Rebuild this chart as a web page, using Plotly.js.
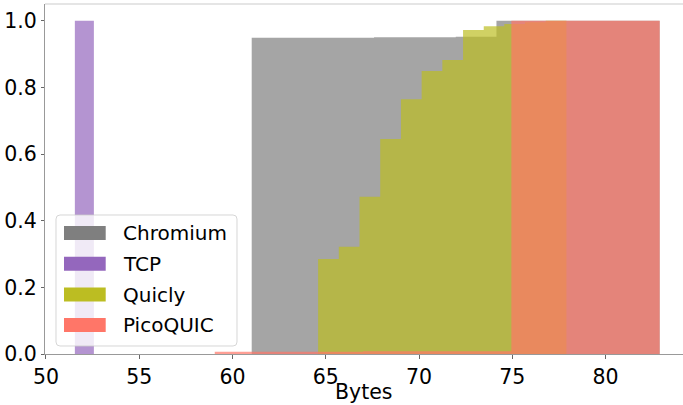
<!DOCTYPE html>
<html>
<head>
<meta charset="utf-8">
<script src="https://cdn.plot.ly/plotly-3.0.1.min.js"></script>
<style>html,body{margin:0;padding:0;background:#fff;}#chart{width:683px;height:405px;}</style>
</head>
<body>
<div id="chart"></div>
<script>
// ---- data (cumulative histogram bin edges and cumulative fractions) ----
const seriesNames = ["Chromium", "TCP", "Quicly", "PicoQUIC"];
const chromiumEdges = [61.03, 63.22, 65.40, 67.59, 69.78, 71.97, 74.15, 76.34, 78.53, 80.71, 82.9];
const chromiumCdf   = [0.949, 0.949, 0.949, 0.950, 0.950, 0.952, 1.0, 1.0, 1.0, 1.0];
const tcpEdges = [51.55, 52.57];
const tcpCdf   = [1.0];
const quiclyEdges = [64.59, 65.70, 66.81, 67.92, 69.03, 70.14, 71.25, 72.36, 73.47, 74.57, 75.68, 76.79, 77.90];
const quiclyCdf   = [0.285, 0.322, 0.472, 0.645, 0.764, 0.849, 0.882, 0.972, 0.983, 0.990, 0.995, 1.0];
const picoEdges = [59.05, 67.0, 74.95, 82.9];
const picoCdf   = [0.007, 0.008, 1.0];
const xTickVals = [50, 55, 60, 65, 70, 75, 80];
const yTickVals = [0.0, 0.2, 0.4, 0.6, 0.8, 1.0];
const xLabel = "Bytes";

const baseColors = ["rgb(127,127,127)", "rgb(148,103,189)", "rgb(188,189,34)", "rgb(255,118,104)"];
const fillColors = ["rgba(127,127,127,0.7)", "rgba(148,103,189,0.7)", "rgba(188,189,34,0.7)", "rgba(255,118,104,0.7)"];

function stepTrace(edges, vals, i) {
  const y = vals.concat([vals[vals.length - 1]]);
  return {
    type: "scatter", mode: "lines", x: edges, y: y,
    line: {shape: "hv", width: 0, color: fillColors[i]},
    fill: "tozeroy", fillcolor: fillColors[i],
    name: seriesNames[i], showlegend: false, hoverinfo: "skip"
  };
}

const traces = [
  stepTrace(chromiumEdges, chromiumCdf, 0),
  stepTrace(tcpEdges, tcpCdf, 1),
  stepTrace(quiclyEdges, quiclyCdf, 2),
  stepTrace(picoEdges, picoCdf, 3)
];

// ---- custom matplotlib-like legend ----
const W = 683, H = 405, mL = 45, mR = 0, mT = 4, mB = 51;
const pw = W - mL - mR, ph = H - mT - mB;
function px2x(p) { return (p - mL) / pw; }
function py2y(p) { return (H - mB - p) / ph; }
function roundedRect(x0, y0, x1, y1, r) {
  const rx = r / pw, ry = r / ph;
  const X0 = px2x(x0), X1 = px2x(x1), Yt = py2y(y0), Yb = py2y(y1);
  return `M ${X0 + rx},${Yb} L ${X1 - rx},${Yb} Q ${X1},${Yb} ${X1},${Yb + ry} L ${X1},${Yt - ry} Q ${X1},${Yt} ${X1 - rx},${Yt} L ${X0 + rx},${Yt} Q ${X0},${Yt} ${X0},${Yt - ry} L ${X0},${Yb + ry} Q ${X0},${Yb} ${X0 + rx},${Yb} Z`;
}
const shapes = [
  {type: "line", xref: "paper", yref: "paper", x0: 0, x1: 1, y0: 1, y1: 1, line: {color: "#cccccc", width: 1.2}},
  {type: "path", xref: "paper", yref: "paper", path: roundedRect(56, 215, 237, 346, 4),
   fillcolor: "rgba(255,255,255,0.8)", line: {color: "rgba(204,204,204,0.8)", width: 1}, layer: "above"}
];
const annotations = [];
const rowCenters = [233, 263.7, 294.5, 325];
seriesNames.forEach((n, i) => {
  const c = rowCenters[i];
  shapes.push({type: "rect", xref: "paper", yref: "paper", x0: px2x(64), x1: px2x(105.7),
    y0: py2y(c + 7), y1: py2y(c - 7), fillcolor: baseColors[i], line: {width: 0}, layer: "above"});
  annotations.push({xref: "paper", yref: "paper", x: px2x(121), y: py2y(c), xanchor: "left", yanchor: "middle",
    text: n, showarrow: false, font: {family: "DejaVu Sans", size: 20, color: "#000"}});
});
// x-axis title
annotations.push({xref: "paper", yref: "paper", x: 0.5, y: py2y(392), xanchor: "center", yanchor: "middle",
  text: xLabel, showarrow: false, font: {family: "DejaVu Sans", size: 20.5, color: "#000"}});

const layout = {
  width: W, height: H,
  margin: {l: mL, r: mR, t: mT, b: mB, pad: 0},
  paper_bgcolor: "#fff", plot_bgcolor: "#fff",
  font: {family: "DejaVu Sans", size: 20, color: "#000"},
  showlegend: false,
  xaxis: {
    range: [49.95, 84.15], tickvals: xTickVals, ticktext: xTickVals.map(String),
    showgrid: false, zeroline: false, showline: true, linecolor: "#999999", linewidth: 1,
    ticks: "outside", ticklen: 4, tickcolor: "#666666", tickwidth: 1,
    tickfont: {family: "DejaVu Sans", size: 20.5, color: "#000"}
  },
  yaxis: {
    range: [0, 1.05], tickvals: yTickVals, tickformat: ".1f",
    showgrid: false, zeroline: false, showline: true, linecolor: "#999999", linewidth: 1,
    ticks: "outside", ticklen: 3, tickcolor: "#666666", tickwidth: 1,
    tickfont: {family: "DejaVu Sans", size: 20.5, color: "#000"}
  },
  shapes: shapes, annotations: annotations
};

Plotly.newPlot("chart", traces, layout, {staticPlot: true, displayModeBar: false});
</script>
</body>
</html>
